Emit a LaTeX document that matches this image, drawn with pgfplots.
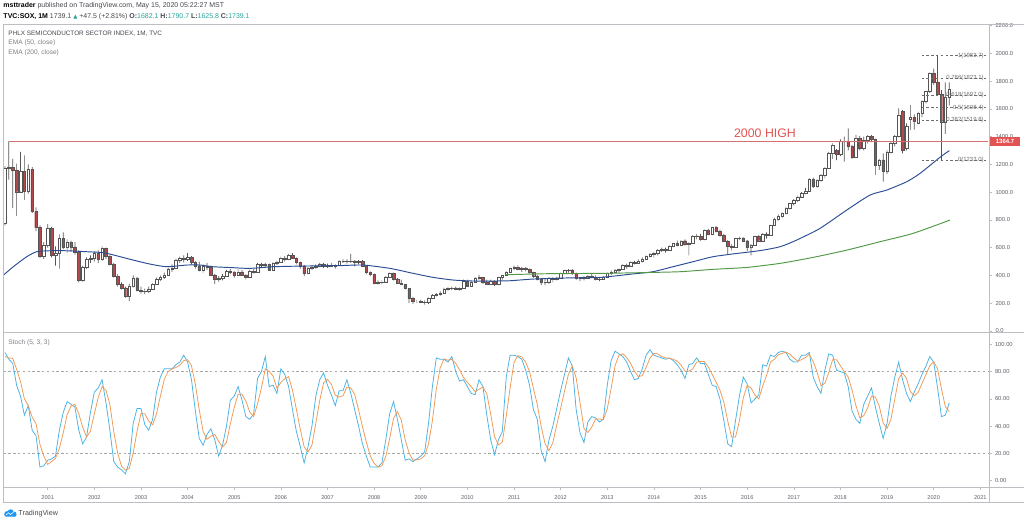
\documentclass[border=0pt]{standalone}
\usepackage{fontspec}
\setmainfont{Liberation Sans}
\newfontfamily\dejavu{DejaVu Sans}
\usepackage{pgfplots}
\usepackage{pgfplotstable}
\pgfplotsset{compat=1.18}

\definecolor{framegray}{RGB}{188,190,196}
\definecolor{labelgray}{RGB}{95,97,105}
\definecolor{candleedge}{RGB}{85,85,85}
\definecolor{downred}{RGB}{178,72,74}
\definecolor{emablue}{RGB}{42,78,148}
\definecolor{emagreen}{RGB}{82,152,72}
\definecolor{hiline}{RGB}{214,112,112}
\definecolor{boxred}{RGB}{226,84,84}
\definecolor{kblue}{RGB}{72,178,226}
\definecolor{dorange}{RGB}{242,152,82}
\definecolor{tvteal}{RGB}{38,166,154}
\definecolor{fibgray}{RGB}{110,110,110}
\definecolor{tvblue}{RGB}{33,150,243}
\definecolor{legdark}{RGB}{70,72,78}
\definecolor{leggray}{RGB}{125,127,133}

\pgfplotstableread{
m o h l c
1 775 1185 760 1172
2 1172 1365 1090 1180
3 1180 1240 885 1160
4 1160 1205 830 1003
5 1003 1290 995 1150
6 1150 1265 945 1005
7 1005 1200 990 1165
8 1165 1180 850 860
9 860 890 720 745
10 745 760 525 540
11 540 640 520 620
12 620 770 600 740
13 740 750 530 545
14 545 610 470 560
15 560 695 450 665
16 665 710 590 605
17 605 660 560 640
18 640 650 570 605
19 605 640 550 570
20 570 580 350 365
21 365 470 355 460
22 460 530 450 520
23 520 545 490 525
24 525 575 500 560
25 560 580 490 515
26 515 610 505 595
27 595 600 520 540
28 540 550 470 480
29 480 490 385 395
30 395 410 320 335
31 335 350 300 310
32 310 320 240 250
33 250 340 215 325
34 325 400 315 380
35 380 390 285 295
36 295 320 270 285
37 285 305 265 290
38 290 320 275 300
39 300 345 295 340
40 340 385 335 375
41 375 400 360 385
42 385 420 375 405
43 405 455 400 445
44 445 480 425 455
45 455 520 450 510
46 510 535 490 525
47 525 545 495 520
48 520 560 505 530
49 530 540 480 495
50 495 505 450 470
51 470 500 430 440
52 440 480 420 465
53 465 490 440 460
54 460 470 395 405
55 405 410 340 370
56 370 395 355 380
57 380 410 365 395
58 395 440 390 430
59 430 445 410 425
60 425 430 385 400
61 400 445 395 425
62 425 440 400 405
63 405 410 370 385
64 385 440 380 430
65 430 445 415 420
66 420 490 418 480
67 480 490 460 475
68 475 490 455 480
69 480 485 435 440
70 440 495 438 490
71 490 505 475 495
72 495 535 490 525
73 525 540 500 515
74 515 555 510 545
75 545 560 520 525
76 525 530 480 495
77 495 500 450 470
78 470 475 395 415
79 415 460 410 455
80 455 470 440 460
81 460 480 450 465
82 465 490 460 480
83 480 490 455 470
84 470 485 455 475
85 475 490 465 470
86 470 480 450 475
87 475 510 470 500
88 500 515 490 505
89 505 515 485 500
90 500 555 490 505
91 505 510 465 495
92 495 510 480 500
93 500 510 465 470
94 470 475 410 420
95 420 430 395 410
96 410 415 335 345
97 345 365 335 350
98 350 365 335 355
99 355 395 350 390
100 390 420 385 415
101 415 420 365 375
102 375 380 340 345
103 345 370 330 335
104 335 340 300 305
105 305 310 200 235
106 235 245 195 215
107 215 225 200 215
108 215 225 200 210
109 210 220 190 205
110 205 240 195 235
111 235 265 230 260
112 260 275 250 265
113 265 285 255 275
114 275 310 270 300
115 300 315 290 305
116 305 320 295 310
117 310 320 295 300
118 300 315 290 310
119 310 370 305 360
120 360 370 320 325
121 325 360 320 355
122 355 390 350 380
123 380 405 370 385
124 385 390 340 350
125 350 370 335 340
126 340 370 335 360
127 360 365 325 335
128 335 390 330 385
129 385 405 370 400
130 400 430 395 425
131 425 455 420 450
132 450 470 440 460
133 460 475 440 445
134 445 460 425 450
135 450 460 430 445
136 445 450 415 420
137 420 425 385 395
138 395 405 365 375
139 375 380 330 350
140 350 375 330 355
141 355 390 340 380
142 380 390 350 375
143 375 390 365 380
144 380 420 375 415
145 415 440 410 435
146 435 445 420 440
147 440 445 405 415
148 415 420 370 380
149 380 390 360 385
150 385 395 365 380
151 380 400 375 395
152 395 410 385 390
153 390 400 365 370
154 370 385 360 375
155 375 395 370 390
156 390 420 385 415
157 415 435 405 425
158 425 445 420 440
159 440 450 420 445
160 445 480 440 475
161 475 485 450 470
162 470 500 465 495
163 495 505 480 490
164 490 515 485 505
165 505 530 495 520
166 520 545 510 540
167 540 560 530 555
168 555 570 530 560
169 560 590 545 585
170 585 600 570 590
171 590 600 565 585
172 585 615 580 610
173 610 635 605 630
174 630 650 610 620
175 620 655 615 650
176 650 660 615 625
177 625 640 545 635
178 635 690 630 685
179 685 700 660 680
180 680 700 650 660
181 660 730 655 725
182 725 735 690 700
183 700 750 690 745
184 745 755 710 720
185 720 730 680 690
186 690 700 640 645
187 645 655 550 610
188 610 625 580 605
189 605 670 600 665
190 665 680 655 670
191 670 675 640 650
192 650 655 575 600
193 600 625 545 620
194 620 685 615 680
195 680 690 640 650
196 650 705 645 700
197 700 710 665 690
198 690 765 685 760
199 760 815 755 805
200 805 840 795 830
201 830 855 815 848
202 848 890 840 884
203 884 925 875 920
204 920 950 905 943
205 943 975 930 967
206 967 1000 960 991
207 991 1030 985 1010
208 1010 1100 1005 1092
209 1092 1105 1030 1040
210 1040 1095 1030 1088
211 1088 1130 1075 1124
212 1124 1180 1100 1172
213 1172 1290 1165 1280
214 1280 1352 1240 1340
215 1300 1310 1230 1275
216 1275 1380 1260 1364
217 1364 1400 1220 1370
218 1370 1460 1300 1330
219 1330 1340 1240 1250
220 1250 1412 1245 1390
221 1390 1405 1300 1316
222 1316 1400 1300 1375
223 1375 1410 1350 1400
224 1400 1410 1360 1380
225 1380 1385 1124 1196
226 1196 1240 1160 1232
227 1232 1280 1076 1150
228 1150 1300 1130 1290
229 1290 1360 1280 1352
230 1352 1410 1330 1400
231 1400 1604 1395 1555
232 1580 1590 1280 1304
233 1316 1496 1300 1472
234 1525 1628 1448 1540
235 1540 1560 1450 1508
236 1500 1580 1490 1568
237 1568 1660 1540 1652
238 1652 1730 1640 1724
239 1724 1860 1715 1855
240 1855 1890 1770 1795
241 1795 1983.7 1700 1707
242 1707 1735 1233 1507
243 1507 1790 1420 1682.1
244 1682.1 1790.7 1625.8 1739.1
}\candles

\pgfplotstableread{
m k d
1 94 91
2 89 90
3 86 89.7
4 70 81.7
5 62 72.7
6 48 60
7 55 55
8 37 46.7
9 33 41.7
10 10 26.7
11 11 18
12 15 12
13 16 14
14 18 16.3
15 37 23.7
16 50 35
17 58 48.3
18 56 54.7
19 54 56
20 37 49
21 27 39.3
22 32 32
23 50 36.3
24 65 49
25 68 61
26 74 69
27 57 66.3
28 37 56
29 14 36
30 10 20.3
31 8 10.7
32 5 7.7
33 14 9
34 42 20.3
35 53 36.3
36 53 49.3
37 41 49
38 37 43.7
39 45 41
40 65 49
41 76 62
42 82 74.3
43 82 80
44 82 82
45 85 83
46 87 84.7
47 92 88
48 87 88.7
49 74 84.3
50 51 70.7
51 31 52
52 26 36
53 34 30.3
54 38 32.7
55 30 34
56 18 28.7
57 26 24.7
58 40 28
59 59 41.7
60 62 53.7
61 69 63.3
62 59 63.3
63 47 58.3
64 45 50.3
65 49 47
66 75 56.3
67 80 68
68 91 82
69 69 80
70 70 76.7
71 64 67.7
72 82 72
73 78 74.7
74 69 76.3
75 52 66.3
76 36 52.3
77 25 37.7
78 13 24.7
79 25 21
80 40 26
81 62 42.3
82 74 58.7
83 79 71.7
84 70 74.3
85 63 70.7
86 55 62.7
87 66 61.3
88 66 62.3
89 74 68.7
90 64 68
91 52 63.3
92 40 52
93 27 39.7
94 18 28.3
95 10 18.3
96 10 12.7
97 10 10
98 13 11
99 30 17.7
100 49 30.7
101 58 45.7
102 45 50.7
103 30 44.3
104 15 30
105 16 20.3
106 14 15
107 16 15.3
108 18 16
109 21 18.3
110 42 27
111 69 44
112 90 67
113 89 82.7
114 89 89.3
115 87 88.3
116 91 89
117 80 86
118 73 81.3
119 74 75.7
120 69 72
121 64 69
122 63 65.3
123 74 67
124 69 68.7
125 48 63.7
126 30 49
127 19 32.3
128 30 26.3
129 36 28.3
130 76 47.3
131 92 68
132 92 86.7
133 91 91.7
134 89 90.7
135 81 87
136 70 80
137 52 67.7
138 45 55.7
139 22 39.7
140 14 27
141 30 22
142 40 28
143 53 41
144 66 53
145 78 65.7
146 90 78
147 84 84
148 52 75.3
149 35 57
150 28 38.3
151 43 35.3
152 47 39.3
153 46 45.3
154 43 45.3
155 45 44.7
156 70 52.7
157 88 67.7
158 95 84.3
159 93 92
160 91 93
161 87 90.3
162 80 86
163 74 80.3
164 75 76.3
165 82 77
166 92 83
167 96 90
168 92 93.3
169 91 93
170 90 91
171 89 90
172 90 89.7
173 88 89
174 85 87.7
175 81 84.7
176 75 80.3
177 85 80.3
178 86 82
179 90 87
180 86 87.3
181 86 87.3
182 78 83.3
183 70 78
184 69 72.3
185 60 66.3
186 44 57.7
187 27 43.7
188 25 32
189 44 32
190 62 43.7
191 76 60.7
192 71 69.7
193 57 68
194 60 62.7
195 63 60
196 85 69.3
197 84 77.3
198 92 87
199 91 89
200 94 92.3
201 95 93.3
202 94 94.3
203 89 92.7
204 87 90
205 87 87.7
206 92 88.7
207 92 90.3
208 94 92.7
209 76 87.3
210 69 79.7
211 64 69.7
212 81 71.3
213 93 79.3
214 92 88.7
215 81 88.7
216 80 84.3
217 79 80
218 69 76
219 51 66.3
220 45 55
221 42 46
222 56 47.7
223 62 53.3
224 68 62
225 54 61.3
226 42 54.7
227 31 42.3
228 42 38.3
229 62 45
230 76 60
231 87 75
232 74 79
233 64 75
234 58 65.3
235 65 62.3
236 71 64.7
237 78 71.3
238 84 77.7
239 91 84.3
240 87 87.3
241 68 82
242 47 67.3
243 48 54.3
244 57 50.7
}\stoch

\pgfplotsset{
  pane/.style={scale only axis, width=985.5bp, xmin=0.625, xmax=254.24},
  pricepane/.style={pane, at={(3.5bp,191.3bp)}, anchor=south west, height=308.7bp, ymin=-12.2, ymax=2211},
  stochpane/.style={pane, at={(3.5bp,36.7bp)}, anchor=south west, height=154.6bp, ymin=-4.84, ymax=108.5},
}

\begin{document}
\begin{tikzpicture}
\path[use as bounding box, fill=white] (0,0) rectangle (1024bp,524bp);

% ---- price pane: scale + wicks
\begin{axis}[pricepane,
  axis line style={draw=none},
  xtick=\empty,
  ytick={0,200,...,2200},
  ytick pos=right, yticklabel pos=right,
  tick align=outside, major tick length=3bp,
  tick style={draw=framegray, line width=0.5bp},
  scaled y ticks=false,
  /pgf/number format/assume math mode=true,
  yticklabel style={font=\fontsize{5.8}{7}\selectfont, text=labelgray,
    /pgf/number format/.cd, fixed, fixed zerofill, precision=1, 1000 sep={}},
  ybar stacked, bar width=0.7bp]
\addplot[draw=none, fill=none] table[x=m, y=l]{\candles};
\addplot[draw=none, fill=candleedge] table[x=m, y expr=\thisrow{h}-\thisrow{l}]{\candles};
\end{axis}

% ---- candle bodies
\begin{axis}[pricepane, hide axis, ybar stacked, bar width=2.6bp]
\addplot[draw=none, fill=none] table[x=m, y expr={min(\thisrow{o},\thisrow{c})}]{\candles};
\addplot[fill=white, draw=candleedge, line width=0.4bp] table[x=m, y expr={max(\thisrow{c}-\thisrow{o},0)}]{\candles};
\addplot[fill=downred, draw=candleedge, line width=0.4bp] table[x=m, y expr={max(\thisrow{o}-\thisrow{c},0)}]{\candles};
\end{axis}

% ---- lines on price pane
\begin{axis}[pricepane, hide axis]
\addplot[draw=hiline, line width=1.5bp] coordinates {(2,1364.7) (128,1364.7)};
\addplot[draw=hiline, line width=1.5bp] coordinates {(128,1364.7) (253.9,1364.7)};
\addplot[draw=emablue, line width=0.95bp, smooth, tension=0.4] coordinates {(0.625,403) (3.15,463) (6.6,535) (9.17,571) (12.59,578) (16.89,578) (22.04,571) (25.46,566) (28.03,554) (33.95,511) (38.33,482) (42.62,463) (47.77,475) (51.19,475) (54.54,463) (59.69,456) (64.06,451) (70.06,463) (78.65,468) (87.22,471) (93.22,475) (100.09,451) (106.08,415) (111.23,386) (116.38,367) (121.53,360) (126.67,360) (130.97,362) (136.89,374) (145.56,382) (154.13,386) (162.62,411) (167.77,427) (172.92,463) (178.06,499) (183.21,535) (188.36,555) (195.31,579) (200.46,607) (204.75,655) (210.75,739) (217.62,871) (223.62,979) (227.92,1015) (233.06,1075) (236.49,1135) (241.63,1251) (244.03,1299)};
\addplot[draw=emagreen, line width=0.95bp, smooth, tension=0.4] coordinates {(129.65,405) (141.23,413) (154.13,415) (164.42,420) (174.72,427) (183.21,444) (191.96,458) (200.46,487) (208.95,530) (217.7,583) (226.19,643) (234.69,703) (244.21,799)};
\addplot[draw=fibgray, line width=0.5bp, dash pattern=on 2.4bp off 2.4bp] coordinates {(236.9,1983.7) (253.9,1983.7)};
\addplot[draw=fibgray, line width=0.5bp, dash pattern=on 2.4bp off 2.4bp] coordinates {(236.9,1823.1) (253.9,1823.1)};
\addplot[draw=fibgray, line width=0.5bp, dash pattern=on 2.4bp off 2.4bp] coordinates {(236.9,1697.0) (253.9,1697.0)};
\addplot[draw=fibgray, line width=0.5bp, dash pattern=on 2.4bp off 2.4bp] coordinates {(236.9,1608.4) (253.9,1608.4)};
\addplot[draw=fibgray, line width=0.5bp, dash pattern=on 2.4bp off 2.4bp] coordinates {(236.9,1519.8) (253.9,1519.8)};
\addplot[draw=fibgray, line width=0.5bp, dash pattern=on 2.4bp off 2.4bp] coordinates {(236.9,1233.0) (253.9,1233.0)};
\begin{scope}[every node/.style={anchor=east, inner sep=0pt, text=fibgray, font=\fontsize{6}{7}\selectfont}]
\node at (axis cs:252.9,1983.7) {1(1983.7)};
\node at (axis cs:252.9,1823.1) {0.786(1823.1)};
\node at (axis cs:252.9,1697.0) {0.618(1697.0)};
\node at (axis cs:252.9,1608.4) {0.5(1608.4)};
\node at (axis cs:252.9,1519.8) {0.382(1519.8)};
\node at (axis cs:252.9,1233.0) {0(1233.0)};
\end{scope}
\end{axis}

% ---- stochastic pane
\begin{axis}[stochpane,
  axis line style={draw=none},
  xtick={12,24,...,252},
  xticklabels={2001,2002,2003,2004,2005,2006,2007,2008,2009,2010,2011,2012,2013,2014,2015,2016,2017,2018,2019,2020,2021},
  xtick pos=bottom,
  ytick={0,20,...,100},
  ytick pos=right, yticklabel pos=right,
  tick align=outside, major tick length=2.5bp,
  tick style={draw=framegray, line width=0.5bp},
  /pgf/number format/assume math mode=true,
  yticklabel style={font=\fontsize{5.8}{7}\selectfont, text=labelgray,
    /pgf/number format/.cd, fixed, fixed zerofill, precision=2},
  xticklabel style={font=\fontsize{5.6}{7}\selectfont, text=labelgray, yshift=-2.5bp}]
\addplot[draw=gray!70, line width=0.5bp, dash pattern=on 2.4bp off 2.4bp] coordinates {(0.625,80) (254.24,80)};
\addplot[draw=gray!70, line width=0.5bp, dash pattern=on 2.4bp off 2.4bp] coordinates {(0.625,20) (254.24,20)};
\addplot[draw=kblue, line width=0.75bp] table[x=m, y=k]{\stoch};
\addplot[draw=dorange, line width=0.75bp] table[x=m, y=d]{\stoch};
\end{axis}

% ---- frame lines
\begin{scope}[draw=framegray, line width=0.6bp]
\draw (3.5bp,500bp) -- (1024bp,500bp);
\draw (3.5bp,500bp) -- (3.5bp,21.3bp);
\draw (3.5bp,191.3bp) -- (1024bp,191.3bp);
\draw (3.5bp,36.7bp) -- (1024bp,36.7bp);
\draw (3.5bp,21.3bp) -- (1024bp,21.3bp);
\draw (989bp,500bp) -- (989bp,21.3bp);
\end{scope}

% ---- price label box
\fill[boxred] (990bp,377.7bp) rectangle (1020bp,387bp);
\node[text=white, inner sep=0pt, font=\fontsize{6}{7}\selectfont\bfseries] at (1005bp,382.4bp) {1364.7};

% ---- 2000 HIGH
\node[text=boxred, inner sep=0pt, font=\fontsize{12.4}{14}\selectfont] at (765bp,390.7bp) {2000 HIGH};

% ---- header
\node[anchor=west, inner sep=0pt, text=legdark, font=\fontsize{7}{8}\selectfont] at (3.3bp,518bp)
  {\textcolor{black}{\textbf{msttrader}} published on TradingView.com, May 15, 2020 05:22:27 MST};
\node[anchor=west, inner sep=0pt, text=legdark, font=\fontsize{7}{8}\selectfont] at (3.3bp,507.3bp)
  {\textcolor{black}{\textbf{TVC:SOX, 1M}} 1739.1 {\color{tvteal}\dejavu\fontsize{5.5}{6}\selectfont ▲} +47.5 (+2.81\%) \textbf{O:}\textcolor{tvteal}{1682.1} \textbf{H:}\textcolor{tvteal}{1790.7} \textbf{L:}\textcolor{tvteal}{1625.8} \textbf{C:}\textcolor{tvteal}{1739.1}};

% ---- legends
\node[anchor=west, inner sep=0pt, text=legdark, font=\fontsize{6.4}{7}\selectfont] at (8.3bp,490bp) {PHLX SEMICONDUCTOR SECTOR INDEX, 1M, TVC};
\node[anchor=west, inner sep=0pt, text=leggray, font=\fontsize{6.6}{7}\selectfont] at (8.3bp,480.7bp) {EMA (50, close)};
\node[anchor=west, inner sep=0pt, text=leggray, font=\fontsize{6.6}{7}\selectfont] at (8.3bp,471.3bp) {EMA (200, close)};
\node[anchor=west, inner sep=0pt, text=leggray, font=\fontsize{6.6}{7}\selectfont] at (8.3bp,181.3bp) {Stoch (5, 3, 3)};

% ---- TradingView logo
\fill[tvblue] (7bp,10.3bp) circle (2.6bp);
\fill[tvblue] (10.6bp,11.6bp) circle (3.1bp);
\fill[tvblue] (14bp,10bp) circle (2.4bp);
\fill[tvblue, rounded corners=1.2bp] (4.4bp,7.4bp) rectangle (16.4bp,10.6bp);
\draw[white, line width=0.6bp] (6bp,9bp) -- (8.5bp,11.2bp) -- (10.6bp,9.4bp) -- (13.8bp,12.2bp);
\node[anchor=west, inner sep=0pt, text=legdark, font=\fontsize{7.2}{8}\selectfont] at (18.3bp,10.7bp) {TradingView};
\end{tikzpicture}
\end{document}
